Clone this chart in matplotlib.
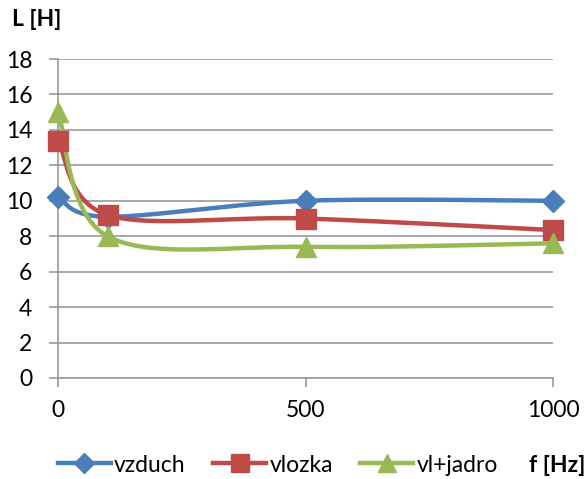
import numpy as np
import matplotlib
matplotlib.use("Agg")
import matplotlib.pyplot as plt
from matplotlib.lines import Line2D

plt.rcParams['font.family'] = ['Lato', 'DejaVu Sans']

freq = [0, 100, 500, 1000]
vzduch = [10.2, 9.1, 10.0, 10.0]
vlozka = [13.4, 9.2, 9.0, 8.35]
vl_jadro = [15.0, 8.0, 7.4, 7.6]

series = [
    ("vzduch", vzduch, "#4A7EBB", "D", 11),
    ("vlozka", vlozka, "#BE4B48", "s", 14),
    ("vl+jadro", vl_jadro, "#98B954", "^", 15),
]

FS = 16.5


def smooth(x, y, n=60):
    """Cubic Bezier smoothing through every point (spreadsheet style)."""
    p = np.column_stack([x, y]).astype(float)
    out = [p[0]]
    t = np.linspace(0, 1, n)[1:, None]
    for i in range(len(p) - 1):
        p0 = p[i - 1] if i > 0 else p[i]
        p1, p2 = p[i], p[i + 1]
        p3 = p[i + 2] if i + 2 < len(p) else p[i + 1]
        c1 = p1 + (p2 - p0) / 6.0
        c2 = p2 - (p3 - p1) / 6.0
        seg = ((1 - t) ** 3) * p1 + 3 * ((1 - t) ** 2) * t * c1 \
            + 3 * (1 - t) * t ** 2 * c2 + t ** 3 * p2
        out.extend(seg)
    out = np.array(out)
    return out[:, 0], out[:, 1]


fig = plt.figure(figsize=(5.87, 4.79), dpi=100)
ax = fig.add_axes([58 / 587, 1 - 378 / 479, (553 - 58) / 587, (378 - 59) / 479])

for name, vals, col, mk, ms in series:
    sx, sy = smooth(freq, vals)
    ax.plot(sx, sy, color=col, lw=3.2, solid_capstyle='round', zorder=3)
    ax.plot(freq, vals, ls='none', marker=mk, ms=ms, color=col,
            markeredgecolor=col, zorder=4, clip_on=False)

ax.set_xlim(0, 1000)
ax.set_ylim(0, 18)
ax.set_yticks(range(0, 19, 2))
ax.set_xticks([0, 500, 1000])
ax.yaxis.grid(True, color='#999999', lw=1.2)
ax.set_axisbelow(True)
for s in ['top', 'right']:
    ax.spines[s].set_visible(False)
for s in ['left', 'bottom']:
    ax.spines[s].set_color('#999999')
    ax.spines[s].set_linewidth(1.2)
ax.tick_params(axis='both', colors='#999999', length=6.5, width=1.2,
               labelcolor='black', labelsize=FS)
ax.tick_params(axis='x', pad=9)
ax.tick_params(axis='y', pad=12)

fig.text(12 / 587, 1 - 20 / 479, "L [H]", fontsize=FS, fontweight='bold',
         va='center', ha='left')
fig.text(585 / 587, 1 - 466 / 479, "f [Hz]", fontsize=FS, fontweight='bold',
         va='center', ha='right')

handles = [Line2D([0], [0], color=col, lw=3.2, marker=mk, ms=ms * 0.9)
           for _, _, col, mk, ms in series]
labels = [s[0] for s in series]
fig.legend(handles, labels, loc='center', bbox_to_anchor=(278 / 587, 1 - 465 / 479),
           ncol=3, frameon=False, fontsize=FS, handlelength=2.3,
           handletextpad=0.15, columnspacing=1.2, borderpad=0, borderaxespad=0)

fig.savefig("out.png", dpi=100)
